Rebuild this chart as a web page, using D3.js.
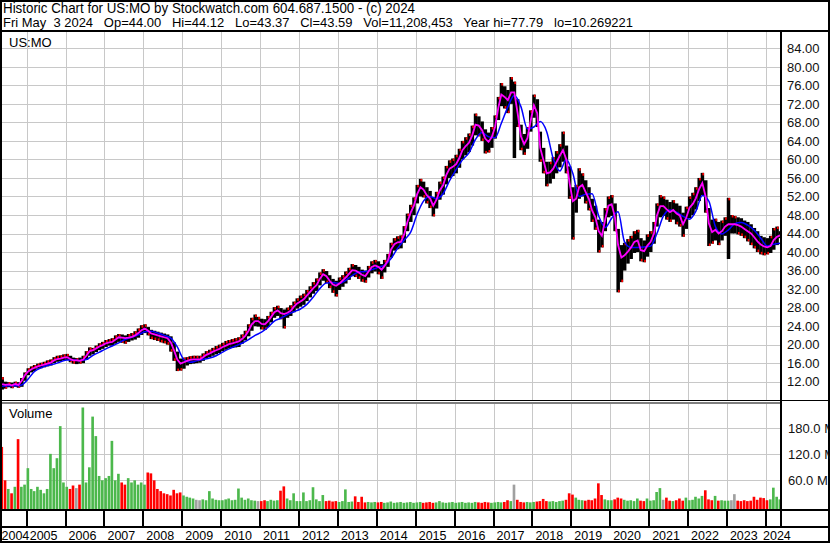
<!DOCTYPE html>
<html><head><meta charset="utf-8">
<script src="https://cdn.jsdelivr.net/npm/d3@7"></script>
<style>
body{margin:0;background:#fff}
svg{display:block;font-family:"Liberation Sans",Arial,sans-serif}
text{white-space:pre}
</style>
</head><body><svg id="c" width="830" height="543"></svg>
<script>
// ---------- DATA (monthly, starting May 2004) ----------
const startYear = 2004, startMonth = 4;
const priceHigh = [
13.0,12.0,11.9,11.8,12.0,11.9,12.8,14.0,14.9,15.3,
15.6,15.9,16.1,16.3,16.6,16.8,17.3,17.6,17.7,17.9,
18.0,17.6,17.2,17.1,17.2,17.6,18.6,19.4,19.3,19.8,
20.3,20.6,21.0,21.2,21.4,22.0,22.3,22.2,22.0,22.3,
22.5,22.9,23.5,24.2,24.4,23.8,23.2,23.0,22.8,22.6,
22.4,22.2,21.8,20.5,18.5,17.0,17.2,17.3,17.5,17.6,
17.6,17.6,18.1,18.6,18.9,19.3,19.7,20.0,20.4,20.8,
21.0,21.2,21.4,21.6,22.2,23.0,24.4,25.8,26.5,26.0,
25.6,25.5,26.2,27.1,28.1,28.4,27.9,27.6,28.0,28.5,
29.3,30.0,30.6,31.0,31.8,32.6,33.5,34.3,35.6,36.3,
35.9,35.0,34.2,33.8,34.5,35.0,35.8,36.6,37.4,37.2,
36.8,36.2,36.0,37.0,38.0,38.3,38.0,37.4,38.3,39.6,
42.0,43.0,43.4,43.6,45.6,48.3,50.2,51.8,54.5,55.8,
55.2,54.0,53.2,51.8,53.0,55.2,56.3,58.6,59.8,60.2,
61.0,62.3,64.0,64.8,65.6,67.3,69.9,69.3,68.2,66.5,
65.8,67.0,69.5,73.5,76.5,75.8,75.0,77.8,76.8,73.0,
67.5,65.5,67.0,70.6,74.0,73.0,66.0,62.5,59.5,59.5,
60.5,61.8,63.3,66.0,63.0,58.5,54.0,54.5,58.1,57.0,
55.5,54.0,51.5,50.0,47.0,46.5,49.5,52.0,52.3,50.5,
45.0,41.5,42.0,42.8,43.5,44.5,44.8,43.0,42.5,43.8,
44.5,46.5,50.5,52.3,52.0,51.3,50.8,51.2,50.5,50.0,
48.5,49.8,52.0,52.8,54.0,56.0,57.1,55.5,49.5,47.0,
47.2,46.5,46.8,47.5,51.7,48.0,47.8,47.5,47.3,46.8,
46.5,46.0,45.2,44.5,43.5,43.2,43.0,43.5,45.2,45.5,
44.5];
const priceLow = [
10.3,10.5,10.8,10.6,10.9,10.7,10.9,12.2,13.4,14.0,
14.3,14.8,14.9,15.1,15.3,15.5,16.0,16.3,16.4,16.6,
16.7,16.2,15.9,15.8,15.9,16.0,16.7,17.6,17.9,18.4,
18.8,19.1,19.5,19.8,19.8,20.2,20.6,20.4,20.2,20.6,
20.9,21.1,21.5,22.1,22.5,22.0,21.2,21.0,20.8,20.5,
20.3,20.0,18.5,16.5,14.3,14.4,14.8,15.5,15.8,15.9,
16.0,16.1,16.5,17.0,17.3,17.6,17.9,18.2,18.6,18.9,
19.2,19.3,19.4,19.5,20.2,20.9,21.8,23.0,24.0,23.9,
23.3,23.2,23.8,24.8,25.8,26.2,25.5,23.5,25.8,26.2,
27.0,27.8,28.2,28.6,29.4,30.2,31.0,31.6,32.8,33.8,
33.3,32.2,31.2,30.4,31.8,32.5,33.2,34.0,34.8,34.6,
34.2,33.6,33.4,34.5,35.4,35.8,35.2,34.2,35.6,36.8,
38.8,40.3,40.6,40.8,42.0,44.5,46.5,48.0,50.5,52.0,
51.8,50.5,49.5,47.7,49.4,51.3,52.4,54.6,56.0,56.4,
57.0,58.2,60.0,60.9,61.6,63.0,65.2,65.0,64.0,61.3,
61.5,62.5,64.5,68.5,71.5,71.0,70.0,72.0,60.3,67.0,
62.0,61.0,62.3,66.0,69.0,67.0,59.5,57.0,54.2,54.8,
55.8,57.0,58.3,59.5,57.0,51.5,42.7,48.5,51.5,52.0,
50.5,49.0,46.5,44.8,39.9,41.0,44.5,47.5,47.8,44.5,
31.3,33.5,36.0,37.5,38.5,39.8,40.0,38.0,37.8,39.0,
40.0,41.8,45.5,47.5,47.8,47.0,46.5,47.0,46.0,45.5,
43.3,45.0,47.3,48.0,49.2,51.0,52.3,48.5,41.3,41.8,
42.5,41.5,42.5,43.5,38.5,44.0,44.0,43.8,43.5,43.0,
42.3,41.5,40.8,40.0,39.5,39.3,39.5,39.8,40.5,41.5,
43.0];
// short moving average (magenta), monthly
const maFast = [
11.5,11.3,11.4,11.2,11.5,11.3,12.2,13.4,14.2,14.7,
15.0,15.3,15.5,15.7,15.9,16.1,16.6,16.9,17.0,17.2,
17.3,16.9,16.6,16.6,16.5,16.8,17.6,18.6,18.8,19.2,
19.6,19.9,20.3,20.5,20.6,21.1,21.6,21.5,21.4,21.5,
21.7,22.0,22.5,23.1,23.5,23.0,22.4,22.2,22.0,21.8,
21.6,21.4,20.5,18.8,16.8,15.9,16.2,16.5,16.7,16.8,
16.8,16.8,17.3,17.8,18.1,18.5,18.8,19.1,19.5,19.8,
20.1,20.3,20.5,20.7,21.2,21.9,23.0,24.4,25.1,25.1,
24.5,24.4,25.0,26.0,27.0,27.4,26.8,26.6,26.9,27.3,
28.2,28.9,29.3,29.8,30.6,31.4,32.2,32.9,34.2,35.2,
34.8,33.8,33.0,32.7,33.2,33.9,34.5,35.3,36.1,36.0,
35.6,35.1,34.8,35.8,36.8,37.1,36.8,36.2,37.0,38.2,
40.6,41.7,42.1,42.2,43.8,46.5,48.5,50.0,52.5,54.0,
53.5,52.3,51.6,50.0,51.3,53.3,54.4,56.6,58.0,58.4,
59.0,60.3,62.0,62.9,63.6,65.2,67.5,67.3,66.3,64.5,
63.8,64.8,67.0,71.2,74.0,73.5,72.8,74.5,74.5,70.0,
65.0,63.3,64.6,68.3,71.7,70.0,62.5,59.8,57.0,57.2,
58.0,59.4,60.8,62.0,60.0,55.0,51.0,51.5,54.0,54.5,
53.0,51.5,49.0,47.5,44.5,43.5,47.0,50.0,50.3,47.5,
41.5,38.8,39.3,40.1,41.0,42.2,42.5,40.4,40.2,41.4,
42.2,44.0,47.9,49.9,49.9,49.2,48.6,49.1,48.3,47.9,
46.0,47.4,49.6,50.4,51.6,53.6,54.9,52.0,46.2,44.3,
44.8,44.0,44.5,45.5,46.0,46.0,46.0,45.8,45.5,45.0,
44.5,44.0,43.2,42.3,41.6,41.2,41.0,41.3,42.6,43.3,
43.6];
// long moving average (blue), read every 2 months
const maSlow = [
11.0,11.1,11.1,11.3,12.6,14.2,15.0,15.5,15.8,16.3,
16.7,16.7,16.6,16.8,17.7,18.4,19.1,19.7,20.4,21.1,
21.6,22.1,22.8,22.9,22.5,22.0,21.4,19.5,16.8,16.2,
16.5,16.8,17.1,17.6,18.4,19.1,19.7,20.3,21.1,22.0,
22.7,23.7,25.1,25.7,26.5,27.1,27.7,28.7,30.3,32.1,
33.3,33.4,33.2,33.9,34.9,35.7,35.8,36.2,36.7,37.2,
38.6,40.8,42.6,44.3,48.2,51.0,52.0,51.5,52.6,55.4,
57.8,59.9,61.4,64.3,65.8,64.9,64.7,67.8,71.3,73.8,
71.4,66.6,67.0,68.2,66.0,60.2,57.5,60.0,57.0,52.0,
52.5,52.6,47.8,45.3,47.3,48.7,42.2,41.0,41.0,41.1,
41.3,44.0,47.8,49.1,48.6,47.7,47.1,48.8,52.2,51.0,
45.5,43.9,44.8,46.1,46.4,45.8,44.7,43.0,41.3,41.7,
41.9];
// volume, millions, monthly
const volume = [
137,60,40,30,45,155,45,50,88,40,
35,45,38,30,40,121,88,111,185,55,
45,40,48,42,50,228,55,90,207,162,
70,60,65,70,151,60,75,55,50,65,
55,60,50,55,50,78,76,60,40,35,
30,28,25,38,30,32,25,22,20,18,
15,14,16,14,35,18,15,14,14,16,
18,14,15,41,20,15,18,14,13,12,
12,14,12,15,13,14,36,46,18,14,
30,12,12,32,12,14,44,16,12,26,
12,13,11,12,10,12,39,10,11,23,
10,22,9,10,9,10,9,10,8,9,
11,8,9,10,8,9,10,8,9,10,
8,9,10,8,9,12,9,8,9,10,
8,9,10,8,9,8,10,9,8,10,
9,8,9,10,9,10,14,12,50,15,
10,9,10,9,10,11,12,17,12,11,
12,10,12,13,15,30,27,20,15,14,
13,15,14,18,53,26,16,14,14,16,
20,18,15,13,14,12,18,13,12,18,
13,14,33,42,15,20,13,12,14,18,
13,20,14,15,22,18,24,37,16,14,
24,13,14,13,13,14,28,13,12,14,
12,13,22,15,20,19,14,16,43,22,
16];
const priceTicks = [84,80,76,72,68,64,60,56,52,48,44,40,36,32,28,24,20,16,12];
const volumeTicks = [60,120,180];
const years = d3.range(2004, 2025);
const title1 = "Historic Chart for US:MO by Stockwatch.com 604.687.1500 - (c) 2024";
const title2 = "Fri May  3 2024   Op=44.00   Hi=44.12   Lo=43.37   Cl=43.59   Vol=11,208,453   Year hi=77.79   lo=10.269221";
const symbol = "US:MO";

// ---------- LAYOUT ----------
const W = 830, H = 543;
const P = {left:2, right:781, top:32, bottom:400};
const V = {top:404, bottom:509};
const svg = d3.select('#c');
svg.append('rect').attr('width',W).attr('height',H).attr('fill','#fff');

const x = d3.scaleTime().domain([new Date(2005,0,1), new Date(2024,0,1)]).range([26.7, 765.8]);
const yP = d3.scaleLinear().domain([12,84]).range([381.7,48.3]);
const yV = d3.scaleLinear().domain([0,180]).range([506.3,428.3]);

const months = maFast.map((v,i)=> new Date(startYear, startMonth+i, 15));
const slowDates = maSlow.map((v,i)=> new Date(startYear, startMonth+2*i, 15));
const bw = x(new Date(2010,1,1)) - x(new Date(2010,0,1));

const defs = svg.append('defs');
defs.append('clipPath').attr('id','cp').append('rect')
  .attr('x',P.left).attr('y',P.top).attr('width',P.right-P.left).attr('height',P.bottom-P.top);
defs.append('clipPath').attr('id','cv').append('rect')
  .attr('x',P.left).attr('y',V.top).attr('width',P.right-P.left).attr('height',V.bottom-V.top);

const grid = '#c8c8c8';
const yearDates = years.map(y=>new Date(y,0,1));
const innerYears = yearDates.filter(d=>x(d)>P.left && x(d)<P.right);

// price grid
const gp = svg.append('g').attr('clip-path','url(#cp)');
gp.selectAll('line.h').data(priceTicks).join('line')
  .attr('x1',P.left).attr('x2',P.right).attr('y1',d=>Math.round(yP(d))+0.5).attr('y2',d=>Math.round(yP(d))+0.5)
  .attr('stroke',grid).attr('stroke-width',1);
gp.selectAll('line.v').data(innerYears).join('line')
  .attr('x1',d=>Math.round(x(d))+0.5).attr('x2',d=>Math.round(x(d))+0.5).attr('y1',P.top).attr('y2',P.bottom)
  .attr('stroke',grid).attr('stroke-width',1);

// price bars
gp.selectAll('rect.bar').data(months).join('rect')
  .attr('x',(d)=>x(d)-bw/2).attr('width',bw+0.2)
  .attr('y',(d,i)=>yP(priceHigh[i])).attr('height',(d,i)=>yP(priceLow[i])-yP(priceHigh[i]))
  .attr('fill','#000');
// red close marks
gp.selectAll('rect.tick').data(months).join('rect')
  .attr('x',(d)=>x(d)).attr('width',bw/2)
  .attr('y',(d,i)=>{const down = i>0 && maFast[i]<maFast[i-1]; return down? yP(priceLow[i])-2.5 : yP(priceHigh[i]);})
  .attr('height',2.5).attr('fill','#ff0000');

const lineSlow = d3.line().x((d,i)=>x(slowDates[i])).y(d=>yP(d)).curve(d3.curveMonotoneX);
gp.append('path').attr('d',lineSlow(maSlow)).attr('fill','none').attr('stroke','#0000ff').attr('stroke-width',1.5);
const lineFast = d3.line().x((d,i)=>x(months[i])).y(d=>yP(d));
gp.append('path').attr('d',lineFast(maFast)).attr('fill','none').attr('stroke','#ff00ff').attr('stroke-width',1.8);

// volume grid
const gv = svg.append('g').attr('clip-path','url(#cv)');
gv.selectAll('line.h').data(volumeTicks).join('line')
  .attr('x1',P.left).attr('x2',P.right).attr('y1',d=>Math.round(yV(d))+0.5).attr('y2',d=>Math.round(yV(d))+0.5)
  .attr('stroke',grid);
gv.selectAll('line.v').data(innerYears).join('line')
  .attr('x1',d=>Math.round(x(d))+0.5).attr('x2',d=>Math.round(x(d))+0.5).attr('y1',V.top).attr('y2',V.bottom)
  .attr('stroke',grid);
gv.selectAll('rect.vol').data(months).join('rect')
  .attr('x',d=>x(d)-bw/2).attr('width',bw*0.8)
  .attr('y',(d,i)=>yV(volume[i])).attr('height',(d,i)=>V.bottom-yV(volume[i]))
  .attr('fill',(d,i)=> i===0 ? '#ff0000' : (maFast[i]>maFast[i-1] ? '#4cb84c' : (maFast[i]<maFast[i-1] ? '#ff0000' : '#a0a0a0')));

// frame lines
const frame = svg.append('g').attr('stroke','#000').attr('fill','none');
frame.append('rect').attr('x',1).attr('y',1).attr('width',W-2).attr('height',H-2).attr('stroke-width',2);
frame.append('line').attr('x1',0).attr('x2',W).attr('y1',31).attr('y2',31).attr('stroke-width',2);
frame.append('line').attr('x1',P.right).attr('x2',P.right).attr('y1',31).attr('y2',527).attr('stroke-width',2);
frame.append('line').attr('x1',0).attr('x2',W).attr('y1',400.5).attr('y2',400.5).attr('stroke-width',1.2);
frame.append('line').attr('x1',0).attr('x2',P.right).attr('y1',403).attr('y2',403).attr('stroke-width',1.2);
frame.append('line').attr('x1',0).attr('x2',W).attr('y1',510).attr('y2',510).attr('stroke-width',2);
frame.append('line').attr('x1',0).attr('x2',W).attr('y1',527).attr('y2',527).attr('stroke-width',2);
frame.selectAll('line.yt').data(innerYears).join('line')
  .attr('x1',d=>Math.round(x(d))).attr('x2',d=>Math.round(x(d))).attr('y1',510).attr('y2',527).attr('stroke-width',2);

// texts
svg.append('text').attr('x',3).attr('y',13).attr('font-size',14)
  .attr('textLength',412).attr('lengthAdjust','spacingAndGlyphs').text(title1);
svg.append('text').attr('x',3).attr('y',27).attr('font-size',13.5)
  .attr('textLength',630).attr('lengthAdjust','spacingAndGlyphs').text(title2);
svg.append('text').attr('x',9).attr('y',47).attr('font-size',13).text(symbol);
svg.append('text').attr('x',9).attr('y',418).attr('font-size',13).text('Volume');

svg.selectAll('text.pt').data(priceTicks).join('text')
  .attr('x',787).attr('y',d=>yP(d)).attr('dy','0.36em').attr('font-size',13).attr('fill','#111')
  .text(d=>d3.format('.2f')(d));
svg.selectAll('text.vt').data(volumeTicks).join('text')
  .attr('x',788).attr('y',d=>yV(d)).attr('dy','0.36em').attr('font-size',13).attr('fill','#111')
  .text(d=>d3.format('.1f')(d)+' M');
svg.selectAll('text.yl').data(years).join('text')
  .attr('x',d=>Math.min(Math.max(x(new Date(d,0,1))+3,1.5),763)).attr('y',540).attr('font-size',12.5)
  .text(d=>d);
</script></body></html>
